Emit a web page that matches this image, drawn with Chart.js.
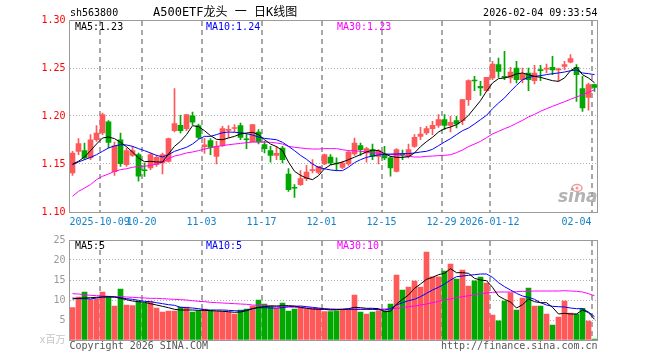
<!DOCTYPE html>
<html>
<head>
<meta charset="utf-8">
<script src="https://cdn.jsdelivr.net/npm/chart.js@4.4.1/dist/chart.umd.min.js"></script>
<style>
  html, body { margin: 0; padding: 0; background: #fff; }
  #wrap { position: relative; width: 660px; height: 360px; }
  canvas { position: absolute; left: 0; }
</style>
</head>
<body>
<div id="wrap">
  <canvas id="kline" width="660" height="230" style="top:0"></canvas>
  <canvas id="vol" width="660" height="130" style="top:230px"></canvas>
</div>
<script>
// trading days shown on the chart
const dates = [
  '2025-09-24','2025-09-25','2025-09-26','2025-09-29','2025-09-30',
  '2025-10-09','2025-10-10','2025-10-13','2025-10-14','2025-10-15','2025-10-16','2025-10-17',
  '2025-10-20','2025-10-21','2025-10-22','2025-10-23','2025-10-24',
  '2025-10-27','2025-10-28','2025-10-29','2025-10-30','2025-10-31',
  '2025-11-03','2025-11-04','2025-11-05','2025-11-06','2025-11-07',
  '2025-11-10','2025-11-11','2025-11-12','2025-11-13','2025-11-14',
  '2025-11-17','2025-11-18','2025-11-19','2025-11-20','2025-11-21',
  '2025-11-24','2025-11-25','2025-11-26','2025-11-27','2025-11-28',
  '2025-12-01','2025-12-02','2025-12-03','2025-12-04','2025-12-05',
  '2025-12-08','2025-12-09','2025-12-10','2025-12-11','2025-12-12',
  '2025-12-15','2025-12-16','2025-12-17','2025-12-18','2025-12-19',
  '2025-12-22','2025-12-23','2025-12-24','2025-12-25','2025-12-26',
  '2025-12-29','2025-12-30','2025-12-31',
  '2026-01-05','2026-01-06','2026-01-07','2026-01-08','2026-01-09',
  '2026-01-12','2026-01-13','2026-01-14','2026-01-15','2026-01-16',
  '2026-01-19','2026-01-20','2026-01-21','2026-01-22','2026-01-23',
  '2026-01-26','2026-01-27','2026-01-28','2026-01-29','2026-01-30',
  '2026-02-02','2026-02-03','2026-02-04'
];

const open = [1.1406,1.1632,1.1639,1.1563,1.1753,1.1823,1.1938,1.1420,1.1753,1.1493,
  1.1590,1.1597,1.1435,1.1458,1.1493,1.1510,1.1528,1.1847,1.1903,1.1868,
  1.2003,1.1900,1.1680,1.1743,1.1580,1.1694,1.1850,1.1870,1.1900,1.1760,
  1.1729,1.1833,1.1702,1.1639,1.1590,1.1667,1.1396,1.1250,1.1285,1.1347,
  1.1430,1.1413,1.1500,1.1573,1.1507,1.1465,1.1500,1.1604,1.1691,1.1615,
  1.1650,1.1580,1.1604,1.1563,1.1424,1.1601,1.1580,1.1684,1.1788,1.1823,
  1.1868,1.1903,1.1962,1.1903,1.1951,1.1951,1.2170,1.2370,1.2309,1.2264,
  1.2396,1.2535,1.2405,1.2396,1.2500,1.2378,1.2448,1.2368,1.2474,1.2489,
  1.2507,1.2480,1.2517,1.2562,1.2507,1.2285,1.2194,1.2326];
const close = [1.1615,1.1712,1.1563,1.1753,1.1823,1.2014,1.1726,1.1690,1.1503,1.1639,
  1.1639,1.1372,1.1430,1.1597,1.1570,1.1597,1.1764,1.1920,1.1847,1.2014,
  1.1937,1.1778,1.1700,1.1674,1.1684,1.1868,1.1860,1.1880,1.1778,1.1753,
  1.1910,1.1729,1.1660,1.1590,1.1611,1.1545,1.1233,1.1247,1.1347,1.1417,
  1.1441,1.1476,1.1597,1.1510,1.1500,1.1510,1.1625,1.1719,1.1650,1.1660,
  1.1580,1.1639,1.1563,1.1458,1.1649,1.1597,1.1649,1.1778,1.1812,1.1868,
  1.1903,1.1962,1.1903,1.1934,1.1917,1.2170,1.2368,1.2365,1.2292,1.2403,
  1.2542,1.2465,1.2403,1.2458,1.2378,1.2438,1.2378,1.2448,1.2472,1.2493,
  1.2479,1.2483,1.2535,1.2597,1.2431,1.2083,1.2326,1.2299];
const high = [1.1632,1.1764,1.1719,1.1806,1.1900,1.2031,1.1951,1.1729,1.1823,1.1667,
  1.1684,1.1615,1.1510,1.1615,1.1590,1.1615,1.1771,1.2285,1.2007,1.2014,
  1.2042,1.1917,1.1767,1.1764,1.1736,1.1892,1.1900,1.1910,1.1927,1.1812,
  1.1910,1.1858,1.1736,1.1684,1.1684,1.1684,1.1451,1.1285,1.1431,1.1486,
  1.1545,1.1476,1.1604,1.1597,1.1563,1.1528,1.1639,1.1771,1.1719,1.1674,
  1.1708,1.1650,1.1684,1.1580,1.1660,1.1646,1.1708,1.1806,1.1882,1.1892,
  1.1944,1.2014,1.2014,1.1997,1.1997,1.2170,1.2378,1.2413,1.2361,1.2403,
  1.2569,1.2604,1.2674,1.2507,1.2569,1.2500,1.2500,1.2528,1.2528,1.2542,
  1.2622,1.2500,1.2569,1.2639,1.2535,1.2413,1.2344,1.2333];
const low = [1.1382,1.1597,1.1545,1.1545,1.1736,1.1806,1.1667,1.1382,1.1476,1.1476,
  1.1580,1.1320,1.1370,1.1440,1.1476,1.1396,1.1520,1.1833,1.1823,1.1847,
  1.1910,1.1764,1.1610,1.1597,1.1500,1.1684,1.1778,1.1833,1.1753,1.1660,
  1.1729,1.1708,1.1615,1.1520,1.1545,1.1510,1.1215,1.1153,1.1278,1.1326,
  1.1406,1.1396,1.1493,1.1493,1.1431,1.1451,1.1486,1.1590,1.1590,1.1520,
  1.1545,1.1500,1.1545,1.1372,1.1417,1.1545,1.1563,1.1674,1.1753,1.1806,
  1.1806,1.1882,1.1858,1.1833,1.1875,1.1910,1.2111,1.2264,1.2215,1.2257,
  1.2378,1.2403,1.2378,1.2344,1.2344,1.2344,1.2264,1.2333,1.2368,1.2448,
  1.2431,1.2361,1.2483,1.2552,1.2153,1.2049,1.2062,1.2257];

// price moving averages
const ma5 = [1.1500,1.1528,1.1573,1.1639,1.1708,1.1771,1.1781,1.1764,1.1726,1.1680,
  1.1625,1.1563,1.1524,1.1528,1.1521,1.1521,1.1604,1.1684,1.1736,1.1806,
  1.1899,1.1889,1.1847,1.1795,1.1757,1.1753,1.1771,1.1788,1.1813,1.1823,
  1.1830,1.1806,1.1753,1.1708,1.1681,1.1639,1.1520,1.1424,1.1382,1.1354,
  1.1337,1.1378,1.1451,1.1490,1.1505,1.1521,1.1545,1.1571,1.1598,1.1625,
  1.1645,1.1639,1.1608,1.1580,1.1569,1.1569,1.1576,1.1615,1.1681,1.1733,
  1.1778,1.1833,1.1868,1.1885,1.1910,1.1951,1.2007,1.2083,1.2160,1.2257,
  1.2344,1.2389,1.2396,1.2413,1.2438,1.2448,1.2431,1.2413,1.2403,1.2385,
  1.2368,1.2361,1.2396,1.2472,1.2507,1.2430,1.2396,1.2347];
const ma10 = [1.1493,1.1521,1.1545,1.1569,1.1597,1.1632,1.1667,1.1688,1.1701,1.1698,
  1.1684,1.1660,1.1639,1.1615,1.1590,1.1573,1.1597,1.1632,1.1653,1.1674,
  1.1708,1.1757,1.1788,1.1788,1.1806,1.1826,1.1833,1.1830,1.1826,1.1816,
  1.1802,1.1781,1.1767,1.1760,1.1753,1.1726,1.1684,1.1639,1.1590,1.1549,
  1.1500,1.1465,1.1450,1.1438,1.1431,1.1431,1.1467,1.1514,1.1545,1.1569,
  1.1583,1.1594,1.1601,1.1604,1.1604,1.1608,1.1608,1.1615,1.1625,1.1632,
  1.1653,1.1691,1.1729,1.1764,1.1806,1.1847,1.1875,1.1917,1.1962,1.2007,
  1.2076,1.2135,1.2188,1.2257,1.2319,1.2378,1.2403,1.2413,1.2420,1.2431,
  1.2441,1.2448,1.2458,1.2472,1.2479,1.2448,1.2441,1.2431];
const ma30 = [1.1163,1.1215,1.1250,1.1285,1.1337,1.1372,1.1396,1.1424,1.1441,1.1451,
  1.1465,1.1476,1.1476,1.1486,1.1500,1.1520,1.1556,1.1583,1.1597,1.1615,
  1.1625,1.1639,1.1656,1.1667,1.1684,1.1691,1.1701,1.1708,1.1715,1.1722,
  1.1729,1.1729,1.1729,1.1726,1.1719,1.1708,1.1684,1.1674,1.1667,1.1660,
  1.1656,1.1656,1.1660,1.1660,1.1660,1.1649,1.1639,1.1639,1.1632,1.1625,
  1.1618,1.1611,1.1604,1.1597,1.1597,1.1587,1.1580,1.1573,1.1573,1.1580,
  1.1583,1.1587,1.1590,1.1597,1.1618,1.1646,1.1681,1.1708,1.1736,1.1774,
  1.1813,1.1840,1.1868,1.1892,1.1924,1.1955,1.1990,1.2017,1.2049,1.2076,
  1.2101,1.2125,1.2149,1.2174,1.2198,1.2222,1.2247,1.2274];

// volume, millions
const volume = [8.1,10.7,12.0,10.1,10.3,12.0,10.75,8.5,12.75,8.75,
  8.6,9.6,9.25,9.6,8.0,7.0,7.25,7.25,8.2,8.2,
  7.0,7.3,7.7,7.4,7.1,7.1,7.0,6.5,7.5,7.75,
  8.5,10.0,9.0,8.5,7.9,9.2,7.25,7.75,8.2,7.75,
  7.75,7.75,7.1,7.1,7.3,7.5,7.5,11.25,7.0,6.5,
  7.0,7.3,7.3,9.0,16.25,12.5,13.25,14.75,13.25,22.0,
  15.8,15.8,17.25,19.0,15.25,17.5,13.5,14.8,15.7,14.25,
  6.25,4.8,9.75,11.8,7.5,10.5,13.0,8.5,8.5,6.5,
  3.75,5.75,9.75,6.75,6.5,7.9,4.75,0.25];
const volMa5 = [10.25,10.42,10.5,10.58,10.67,10.75,10.83,10.75,10.42,10.08,
  9.75,9.58,9.42,9.08,8.75,8.42,8.08,7.67,7.5,7.5,
  7.5,7.42,7.42,7.33,7.25,7.17,7.08,6.92,7.0,7.33,
  7.83,8.17,8.33,8.5,8.5,8.58,8.58,8.5,8.17,7.92,
  7.75,7.67,7.67,7.5,7.58,7.67,7.83,8.17,8.08,7.92,
  7.92,7.83,7.08,7.17,9.0,10.17,11.25,12.92,14.0,15.17,
  15.67,16.33,16.67,17.83,16.83,16.83,16.67,15.42,15.0,14.83,
  13.17,11.0,10.17,9.5,8.0,8.83,10.25,9.58,9.33,9.33,
  8.17,6.5,6.67,6.5,6.5,7.5,6.83,5.17];
const volMa10 = [10.5,10.33,10.33,10.25,10.5,10.75,10.75,10.75,10.58,10.33,
  10.17,9.92,9.67,9.58,9.33,9.08,8.83,8.67,8.17,8.08,
  8.0,7.83,7.58,7.5,7.5,7.5,7.42,7.33,7.25,7.5,
  7.83,8.08,8.08,8.0,8.0,8.08,8.33,8.42,8.5,8.33,
  8.17,8.0,7.83,7.67,7.67,7.67,7.67,7.67,7.67,7.67,
  7.67,7.58,7.5,7.83,8.75,9.33,9.83,10.17,10.83,11.67,
  12.5,13.17,14.0,15.0,15.83,16.0,16.17,16.33,16.5,16.5,
  15.67,14.33,13.33,12.5,11.67,11.0,10.67,10.17,9.33,8.75,
  8.42,8.33,8.25,8.0,7.83,7.83,7.0,5.83];
const volMa30 = [11.58,11.5,11.33,11.17,11.08,11.0,10.92,10.83,10.83,10.75,
  10.67,10.58,10.5,10.42,10.42,10.33,10.25,10.17,10.08,10.0,
  9.83,9.67,9.58,9.42,9.33,9.25,9.17,9.08,9.0,8.92,
  8.75,8.67,8.58,8.5,8.42,8.33,8.25,8.17,8.08,8.0,
  7.92,7.83,7.75,7.75,7.67,7.67,7.67,7.67,7.67,7.67,
  7.67,7.67,7.75,7.83,7.92,8.08,8.33,8.5,8.75,9.0,
  9.33,9.67,10.0,10.25,10.58,10.83,11.08,11.33,11.58,11.75,
  11.92,12.0,12.0,12.0,12.08,12.17,12.17,12.25,12.25,12.25,
  12.25,12.25,12.33,12.25,12.17,12.0,11.58,11.08];

// date ticks under the price panel
const tickDates = ['2025-10-09','2025-10-20','2025-11-03','2025-11-17','2025-12-01',
  '2025-12-15','2025-12-29','2026-01-12','2026-02-04'];
const tickLabels = ['2025-10-09','10-20','11-03','11-17','12-01','12-15','12-29','2026-01-12','02-04'];

const UP = '#ff5858';
const DOWN = '#00a800';
const MONO = '"DejaVu Sans Mono", monospace';
const tickIdx = tickDates.map(d => dates.indexOf(d));
const colors = close.map((c, i) => c >= open[i] ? UP : DOWN);

function lineSet(data, color) {
  return { type: 'line', data: data, borderColor: color, borderWidth: 1,
    pointRadius: 0, tension: 0, fill: false, order: 0 };
}

function xScale() {
  return {
    type: 'category', labels: dates, offset: true,
    grid: { display: false },
    border: { display: false },
    ticks: { display: false, autoSkip: false },
    afterFit: s => { s.height = 0; }
  };
}

// dashed day separators, drawn as short filled segments
function separators(chart) {
  const { ctx, chartArea: a, scales: { x } } = chart;
  ctx.save();
  ctx.fillStyle = '#a8a8a8';
  for (const idx of tickIdx) {
    const px = Math.round(x.getPixelForValue(idx) - 3);
    for (let y = Math.round(a.top) + 1; y < a.bottom; y += 9) {
      ctx.fillRect(px - 1, y, 2, Math.min(5, a.bottom - y));
    }
  }
  ctx.restore();
}

const panel = {
  id: 'panel',
  beforeDatasetsDraw(chart) {
    separators(chart);
  },
  afterDraw(chart) {
    const { ctx, chartArea: a } = chart;
    ctx.save();
    ctx.strokeStyle = '#9a9a9a';
    ctx.lineWidth = 1;
    ctx.strokeRect(a.left, a.top + 0.5, a.right - a.left, a.bottom - a.top);
    ctx.restore();
  }
};

function text(ctx, s, x, y, color, align, font) {
  ctx.fillStyle = color;
  ctx.textAlign = align || 'left';
  ctx.font = font || ('10px ' + MONO);
  ctx.fillText(s, x, y);
}

const klineText = {
  id: 'klineText',
  afterDraw(chart) {
    const { ctx, chartArea: a, scales: { x } } = chart;
    ctx.save();
    ctx.textBaseline = 'middle';
    text(ctx, 'sh563800', 70, 13, '#000');
    text(ctx, 'A500ETF龙头 一 日K线图', 153, 13, '#000', 'left', '12px ' + MONO + ', "Noto Sans CJK SC"');
    text(ctx, '2026-02-04 09:33:54', a.right, 13, '#000', 'right');
    text(ctx, 'MA5:1.23', 75, 27, '#000');
    text(ctx, 'MA10:1.24', 206, 27, '#0000ff');
    text(ctx, 'MA30:1.23', 337, 27, '#ff00ff');

    ctx.font = '10px ' + MONO;
    tickIdx.forEach((idx, k) => {
      const w = ctx.measureText(tickLabels[k]).width;
      let left = x.getPixelForValue(idx) - 3 - w / 2;
      if (left + w > a.right - 6) left = a.right - 6 - w;
      if (left < a.left) left = a.left;
      text(ctx, tickLabels[k], left, 222, '#1482c8');
    });

    // sina watermark
    ctx.strokeStyle = 'rgba(235,120,120,0.75)';
    ctx.fillStyle = 'rgba(235,120,120,0.75)';
    ctx.lineWidth = 1.5;
    ctx.beginPath();
    ctx.ellipse(577, 188, 5, 3.5, 0, 0, Math.PI * 2);
    ctx.stroke();
    ctx.beginPath();
    ctx.arc(577, 188, 1.5, 0, Math.PI * 2);
    ctx.fill();
    text(ctx, 'sina', a.right, 198, 'rgba(160,160,160,0.8)', 'right', 'italic bold 17px "DejaVu Sans"');
    ctx.restore();
  }
};

const volText = {
  id: 'volText',
  afterDraw(chart) {
    const { ctx, chartArea: a } = chart;
    ctx.save();
    ctx.textBaseline = 'middle';
    text(ctx, 'MA5:5', 75, 16.5, '#000');
    text(ctx, 'MA10:5', 206, 16.5, '#0000ff');
    text(ctx, 'MA30:10', 337, 16.5, '#ff00ff');
    text(ctx, 'Copyright 2026 SINA.COM', a.left, 116, '#555');
    text(ctx, 'http://finance.sina.com.cn', a.right, 116, '#555', 'right');
    ctx.restore();
  }
};

Chart.defaults.font.family = MONO;
Chart.defaults.font.size = 10;

new Chart(document.getElementById('kline'), {
  type: 'bar',
  data: {
    labels: dates,
    datasets: [
      lineSet(ma5, '#000000'),
      lineSet(ma10, '#0000ff'),
      lineSet(ma30, '#ff00ff'),
      { data: open.map((o, i) => [o, close[i]]), backgroundColor: colors,
        barThickness: 5, grouped: false, minBarLength: 1, order: 1 },
      { data: low.map((l, i) => [l, high[i]]), backgroundColor: colors,
        barThickness: 1, grouped: false, order: 2 }
    ]
  },
  options: {
    responsive: false, animation: false,
    layout: { padding: { top: 20, right: 62.5, bottom: 18, left: 0 } },
    plugins: { legend: { display: false }, tooltip: { enabled: false } },
    scales: {
      x: xScale(),
      y: {
        min: 1.10, max: 1.30,
        grid: { drawTicks: false,
          color: c => (c.tick && c.tick.value > 1.101 && c.tick.value < 1.299) ? '#b0b0b0' : 'rgba(0,0,0,0)' },
        border: { display: false, dash: [1, 2] },
        ticks: { stepSize: 0.05, padding: 4, color: '#ff0000', callback: v => v.toFixed(2) },
        afterFit: s => { s.width = 69.5; }
      }
    }
  },
  plugins: [panel, klineText]
});

new Chart(document.getElementById('vol'), {
  type: 'bar',
  data: {
    labels: dates,
    datasets: [
      lineSet(volMa5, '#000000'),
      lineSet(volMa10, '#0000ff'),
      lineSet(volMa30, '#ff00ff'),
      { data: volume, backgroundColor: colors, barThickness: 5, order: 1 }
    ]
  },
  options: {
    responsive: false, animation: false,
    layout: { padding: { top: 10, right: 62.5, bottom: 20, left: 0 } },
    plugins: { legend: { display: false }, tooltip: { enabled: false } },
    scales: {
      x: xScale(),
      y: {
        min: 0, max: 25,
        grid: { drawTicks: false,
          color: c => (c.tick && c.tick.value > 0 && c.tick.value < 25) ? '#b0b0b0' : 'rgba(0,0,0,0)' },
        border: { display: false, dash: [1, 2] },
        ticks: { stepSize: 5, padding: 4,
          color: c => c.tick && c.tick.value === 0 ? '#c4c4c4' : '#999999',
          font: { family: MONO + ', "Noto Sans CJK SC"', size: 10 },
          callback: v => v === 0 ? 'x百万' : String(v) },
        afterFit: s => { s.width = 69.5; }
      }
    }
  },
  plugins: [panel, volText]
});
</script>
</body>
</html>
